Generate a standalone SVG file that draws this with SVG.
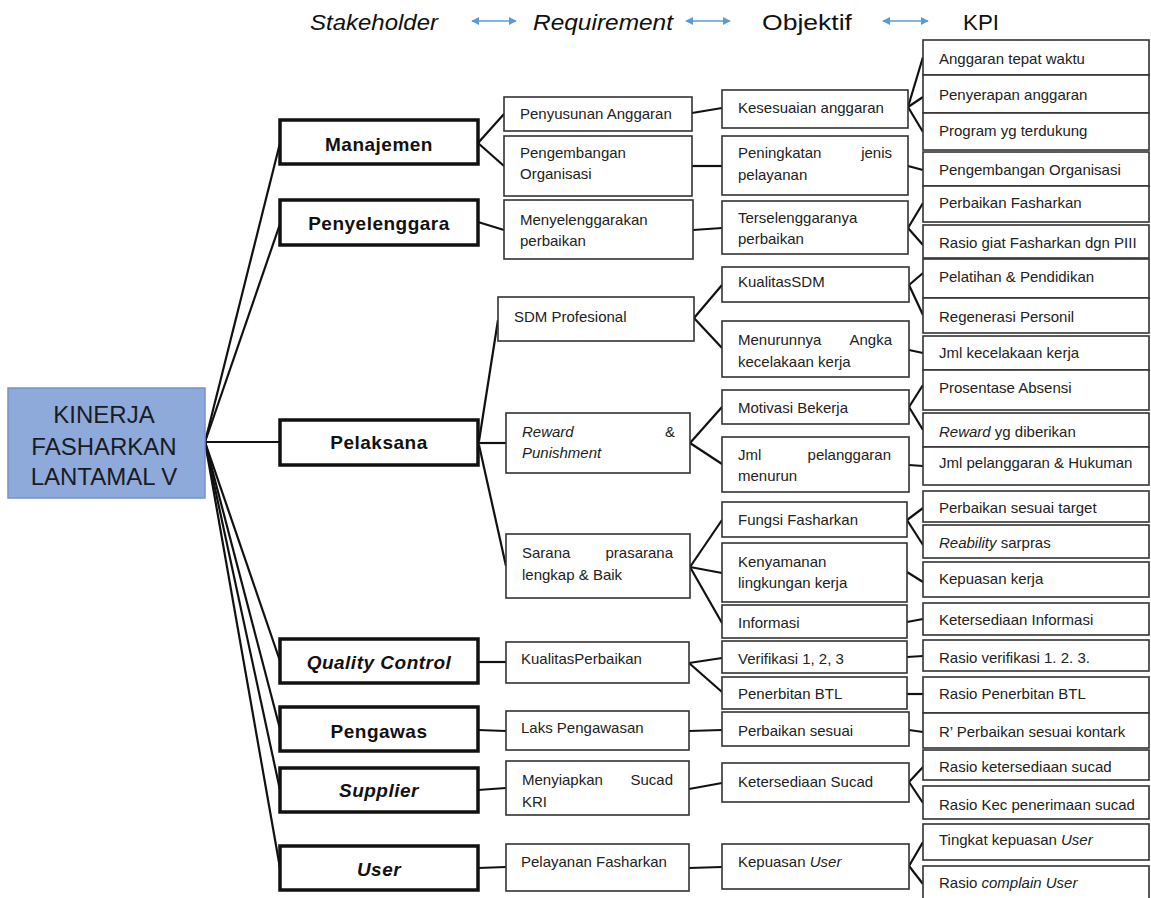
<svg xmlns="http://www.w3.org/2000/svg" width="1151" height="898" viewBox="0 0 1151 898">
<style>
.bg{fill:#ffffff}
.hdr{font-family:"Liberation Sans",Arial,sans-serif;font-size:22px;fill:#111}
.it{font-style:italic}
.root{fill:#8eaadb;stroke:#7292cc;stroke-width:1.5}
.roott{font-family:"Liberation Sans",Arial,sans-serif;font-size:24px;fill:#1b1b24;text-anchor:middle}
.sh{fill:#fff;stroke:#111;stroke-width:3.5}
.sht{font-family:"Liberation Sans",Arial,sans-serif;font-size:19px;font-weight:bold;fill:#111;text-anchor:middle;letter-spacing:0.5px}
.bx{fill:#fff;stroke:#333;stroke-width:1.6}
.t{font-family:"Liberation Sans",Arial,sans-serif;font-size:15px;fill:#222}
.e{text-anchor:end}
.con line,.con polyline{stroke:#111;stroke-width:2.2;fill:none}
.arr{stroke:#5b9bd5;stroke-width:1.6;fill:none}
</style>
<defs>
<marker id="ah" viewBox="0 0 10 10" refX="9" refY="5" markerWidth="5" markerHeight="5" orient="auto-start-reverse">
<path d="M0,0 L10,5 L0,10 z" fill="#5b9bd5"/>
</marker>
</defs>
<rect class="bg" x="0" y="0" width="1151" height="898"/>

<g id="header">
<text class="hdr it" x="310" y="30" textLength="128" lengthAdjust="spacingAndGlyphs">Stakeholder</text>
<line class="arr" x1="472" y1="21" x2="516" y2="21" marker-start="url(#ah)" marker-end="url(#ah)"/>
<text class="hdr it" x="533" y="30" textLength="140" lengthAdjust="spacingAndGlyphs">Requirement</text>
<line class="arr" x1="686" y1="21" x2="730" y2="21" marker-start="url(#ah)" marker-end="url(#ah)"/>
<text class="hdr" x="762" y="30" textLength="90" lengthAdjust="spacingAndGlyphs">Objektif</text>
<line class="arr" x1="883" y1="21" x2="928" y2="21" marker-start="url(#ah)" marker-end="url(#ah)"/>
<text class="hdr" x="963" y="30" textLength="36" lengthAdjust="spacingAndGlyphs">KPI</text>
</g>

<g id="connectors" class="con">
<!-- root to stakeholders -->
<line x1="205" y1="442" x2="280" y2="143"/>
<line x1="205" y1="442" x2="280" y2="224"/>
<line x1="205" y1="442" x2="280" y2="442"/>
<line x1="205" y1="442" x2="280" y2="661"/>
<line x1="205" y1="442" x2="280" y2="729"/>
<line x1="205" y1="442" x2="280" y2="790"/>
<line x1="205" y1="442" x2="280" y2="868"/>
<!-- stakeholders to requirements -->
<line x1="478" y1="143" x2="504" y2="114"/>
<line x1="478" y1="143" x2="504" y2="166"/>
<line x1="478" y1="222" x2="504" y2="230"/>
<line x1="479" y1="441" x2="498" y2="320"/>
<line x1="479" y1="443" x2="506" y2="443"/>
<line x1="479" y1="445" x2="506" y2="566"/>
<line x1="478" y1="662" x2="506" y2="662"/>
<line x1="478" y1="730" x2="506" y2="731"/>
<line x1="478" y1="790" x2="506" y2="788"/>
<line x1="478" y1="868" x2="506" y2="867"/>
<!-- requirements to objectives -->
<line x1="692" y1="113" x2="722" y2="108"/>
<line x1="692" y1="166" x2="722" y2="166"/>
<line x1="693" y1="230" x2="722" y2="228"/>
<line x1="694" y1="318" x2="722" y2="285"/>
<line x1="694" y1="318" x2="722" y2="348"/>
<line x1="690" y1="443" x2="722" y2="407"/>
<line x1="690" y1="443" x2="722" y2="464"/>
<line x1="690" y1="567" x2="722" y2="520"/>
<line x1="690" y1="567" x2="722" y2="573"/>
<line x1="690" y1="567" x2="722" y2="623"/>
<line x1="689" y1="663" x2="722" y2="658"/>
<line x1="689" y1="663" x2="722" y2="692"/>
<line x1="689" y1="731" x2="722" y2="730"/>
<line x1="689" y1="789" x2="722" y2="783"/>
<line x1="689" y1="868" x2="722" y2="867"/>
<!-- objectives to KPI -->
<line x1="908" y1="107" x2="923" y2="57"/>
<line x1="908" y1="107" x2="923" y2="97"/>
<line x1="908" y1="107" x2="923" y2="132"/>
<line x1="908" y1="166" x2="923" y2="170"/>
<line x1="908" y1="228" x2="923" y2="203"/>
<line x1="908" y1="228" x2="923" y2="245"/>
<line x1="909" y1="285" x2="923" y2="273"/>
<line x1="909" y1="285" x2="923" y2="315"/>
<line x1="909" y1="350" x2="923" y2="353"/>
<line x1="909" y1="407" x2="923" y2="385"/>
<line x1="909" y1="407" x2="923" y2="430"/>
<line x1="909" y1="465" x2="923" y2="466"/>
<line x1="907" y1="520" x2="923" y2="508"/>
<line x1="907" y1="520" x2="923" y2="545"/>
<line x1="907" y1="572" x2="923" y2="582"/>
<line x1="907" y1="622" x2="923" y2="619"/>
<line x1="907" y1="657" x2="923" y2="656"/>
<line x1="907" y1="694" x2="923" y2="694"/>
<line x1="909" y1="730" x2="923" y2="732"/>
<line x1="909" y1="782" x2="923" y2="767"/>
<line x1="909" y1="782" x2="923" y2="803"/>
<line x1="909" y1="866" x2="923" y2="842"/>
<line x1="909" y1="866" x2="923" y2="884"/>
</g>

<g id="root">
<rect class="root" x="8" y="388" width="197" height="110"/>
<text class="roott" x="104" y="423">KINERJA</text>
<text class="roott" x="104" y="455">FASHARKAN</text>
<text class="roott" x="104" y="485">LANTAMAL V</text>
</g>

<g id="sh-manajemen"><rect class="sh" x="280" y="120" width="198" height="44"/><text class="sht" x="379" y="151">Manajemen</text></g>
<g id="sh-penyelenggara"><rect class="sh" x="280" y="200" width="198" height="45"/><text class="sht" x="379" y="230">Penyelenggara</text></g>
<g id="sh-pelaksana"><rect class="sh" x="280" y="420" width="198" height="45"/><text class="sht" x="379" y="449">Pelaksana</text></g>
<g id="sh-qc"><rect class="sh" x="280" y="639" width="198" height="44"/><text class="sht it" x="379" y="669">Quality Control</text></g>
<g id="sh-pengawas"><rect class="sh" x="280" y="707" width="198" height="44"/><text class="sht" x="379" y="738">Pengawas</text></g>
<g id="sh-supplier"><rect class="sh" x="280" y="768" width="198" height="44"/><text class="sht it" x="379" y="797">Supplier</text></g>
<g id="sh-user"><rect class="sh" x="280" y="846" width="198" height="44"/><text class="sht it" x="379" y="876">User</text></g>

<g id="req-penyusunan"><rect class="bx" x="504" y="97" width="188" height="34"/><text class="t" x="520" y="119">Penyusunan Anggaran</text></g>
<g id="req-pengembangan"><rect class="bx" x="504" y="136" width="188" height="60"/><text class="t" x="520" y="158">Pengembangan</text><text class="t" x="520" y="179">Organisasi</text></g>
<g id="req-menyelenggarakan"><rect class="bx" x="504" y="200" width="189" height="59"/><text class="t" x="520" y="225">Menyelenggarakan</text><text class="t" x="520" y="246">perbaikan</text></g>
<g id="req-sdm"><rect class="bx" x="498" y="297" width="196" height="44"/><text class="t" x="514" y="322">SDM Profesional</text></g>
<g id="req-reward"><rect class="bx" x="506" y="413" width="184" height="60"/><text class="t it" x="522" y="437">Reward</text><text class="t e" x="675" y="437">&amp;</text><text class="t it" x="522" y="458">Punishment</text></g>
<g id="req-sarana"><rect class="bx" x="506" y="534" width="184" height="64"/><text class="t" x="522" y="558">Sarana</text><text class="t e" x="673" y="558">prasarana</text><text class="t" x="522" y="580">lengkap &amp; Baik</text></g>
<g id="req-kualitas"><rect class="bx" x="506" y="642" width="183" height="41"/><text class="t" x="521" y="664">KualitasPerbaikan</text></g>
<g id="req-laks"><rect class="bx" x="506" y="711" width="183" height="39"/><text class="t" x="521" y="733">Laks Pengawasan</text></g>
<g id="req-menyiapkan"><rect class="bx" x="506" y="761" width="183" height="54"/><text class="t" x="522" y="785">Menyiapkan</text><text class="t e" x="673" y="785">Sucad</text><text class="t" x="522" y="807">KRI</text></g>
<g id="req-pelayanan"><rect class="bx" x="506" y="844" width="183" height="47"/><text class="t" x="521" y="867">Pelayanan Fasharkan</text></g>

<g id="obj-kesesuaian"><rect class="bx" x="722" y="90" width="186" height="38"/><text class="t" x="738" y="113">Kesesuaian anggaran</text></g>
<g id="obj-peningkatan"><rect class="bx" x="722" y="136" width="186" height="59"/><text class="t" x="738" y="158">Peningkatan</text><text class="t e" x="892" y="158">jenis</text><text class="t" x="738" y="180">pelayanan</text></g>
<g id="obj-terselenggara"><rect class="bx" x="722" y="201" width="186" height="53"/><text class="t" x="738" y="223">Terselenggaranya</text><text class="t" x="738" y="244">perbaikan</text></g>
<g id="obj-kualitassdm"><rect class="bx" x="722" y="267" width="187" height="35"/><text class="t" x="738" y="287">KualitasSDM</text></g>
<g id="obj-menurunnya"><rect class="bx" x="722" y="321" width="187" height="56"/><text class="t" x="738" y="345">Menurunnya</text><text class="t e" x="892" y="345">Angka</text><text class="t" x="738" y="367">kecelakaan kerja</text></g>
<g id="obj-motivasi"><rect class="bx" x="722" y="390" width="187" height="34"/><text class="t" x="738" y="413">Motivasi Bekerja</text></g>
<g id="obj-jmlpel"><rect class="bx" x="722" y="437" width="187" height="55"/><text class="t" x="738" y="460">Jml</text><text class="t e" x="891" y="460">pelanggaran</text><text class="t" x="738" y="481">menurun</text></g>
<g id="obj-fungsi"><rect class="bx" x="722" y="502" width="185" height="35"/><text class="t" x="738" y="525">Fungsi Fasharkan</text></g>
<g id="obj-kenyamanan"><rect class="bx" x="722" y="543" width="185" height="59"/><text class="t" x="738" y="567">Kenyamanan</text><text class="t" x="738" y="588">lingkungan kerja</text></g>
<g id="obj-informasi"><rect class="bx" x="722" y="605" width="185" height="33"/><text class="t" x="738" y="628">Informasi</text></g>
<g id="obj-verifikasi"><rect class="bx" x="722" y="641" width="185" height="32"/><text class="t" x="738" y="664">Verifikasi 1, 2, 3</text></g>
<g id="obj-penerbitan"><rect class="bx" x="722" y="677" width="185" height="32"/><text class="t" x="738" y="699">Penerbitan BTL</text></g>
<g id="obj-perbaikansesuai"><rect class="bx" x="722" y="712" width="187" height="34"/><text class="t" x="738" y="736">Perbaikan sesuai</text></g>
<g id="obj-ketersediaan"><rect class="bx" x="722" y="763" width="187" height="39"/><text class="t" x="738" y="787">Ketersediaan Sucad</text></g>
<g id="obj-kepuasan"><rect class="bx" x="722" y="844" width="187" height="45"/><text class="t" x="738" y="867">Kepuasan <tspan class="it">User</tspan></text></g>

<g id="kpi-1"><rect class="bx" x="923" y="40" width="226" height="35"/><text class="t" x="939" y="64">Anggaran tepat waktu</text></g>
<g id="kpi-2"><rect class="bx" x="923" y="75" width="226" height="38"/><text class="t" x="939" y="100">Penyerapan anggaran</text></g>
<g id="kpi-3"><rect class="bx" x="923" y="113" width="226" height="37"/><text class="t" x="939" y="136">Program yg terdukung</text></g>
<g id="kpi-4"><rect class="bx" x="923" y="152" width="226" height="34"/><text class="t" x="939" y="175">Pengembangan Organisasi</text></g>
<g id="kpi-5"><rect class="bx" x="923" y="186" width="226" height="36"/><text class="t" x="939" y="208">Perbaikan Fasharkan</text></g>
<g id="kpi-6"><rect class="bx" x="923" y="225" width="226" height="33"/><text class="t" x="939" y="248">Rasio giat Fasharkan dgn PIII</text></g>
<g id="kpi-7"><rect class="bx" x="923" y="259" width="226" height="39"/><text class="t" x="939" y="282">Pelatihan &amp; Pendidikan</text></g>
<g id="kpi-8"><rect class="bx" x="923" y="298" width="226" height="35"/><text class="t" x="939" y="322">Regenerasi Personil</text></g>
<g id="kpi-9"><rect class="bx" x="923" y="336" width="226" height="34"/><text class="t" x="939" y="358">Jml kecelakaan kerja</text></g>
<g id="kpi-10"><rect class="bx" x="923" y="370" width="226" height="40"/><text class="t" x="939" y="393">Prosentase Absensi</text></g>
<g id="kpi-11"><rect class="bx" x="923" y="413" width="226" height="34"/><text class="t" x="939" y="437"><tspan class="it">Reward</tspan> yg diberikan</text></g>
<g id="kpi-12"><rect class="bx" x="923" y="447" width="226" height="38"/><text class="t" x="939" y="468">Jml pelanggaran &amp; Hukuman</text></g>
<g id="kpi-13"><rect class="bx" x="923" y="491" width="226" height="31"/><text class="t" x="939" y="513">Perbaikan sesuai target</text></g>
<g id="kpi-14"><rect class="bx" x="923" y="525" width="226" height="33"/><text class="t" x="939" y="548"><tspan class="it">Reability</tspan> sarpras</text></g>
<g id="kpi-15"><rect class="bx" x="923" y="562" width="226" height="35"/><text class="t" x="939" y="584">Kepuasan kerja</text></g>
<g id="kpi-16"><rect class="bx" x="923" y="603" width="226" height="32"/><text class="t" x="939" y="625">Ketersediaan Informasi</text></g>
<g id="kpi-17"><rect class="bx" x="923" y="640" width="226" height="31"/><text class="t" x="939" y="663">Rasio verifikasi 1. 2. 3.</text></g>
<g id="kpi-18"><rect class="bx" x="923" y="677" width="226" height="36"/><text class="t" x="939" y="699">Rasio Penerbitan BTL</text></g>
<g id="kpi-19"><rect class="bx" x="923" y="713" width="226" height="35"/><text class="t" x="939" y="737">R’ Perbaikan sesuai kontark</text></g>
<g id="kpi-20"><rect class="bx" x="923" y="750" width="226" height="30"/><text class="t" x="939" y="772">Rasio ketersediaan sucad</text></g>
<g id="kpi-21"><rect class="bx" x="923" y="786" width="226" height="33"/><text class="t" x="939" y="810">Rasio Kec penerimaan sucad</text></g>
<g id="kpi-22"><rect class="bx" x="923" y="824" width="226" height="36"/><text class="t" x="939" y="845">Tingkat kepuasan <tspan class="it">User</tspan></text></g>
<g id="kpi-23"><rect class="bx" x="923" y="866" width="226" height="40"/><text class="t" x="939" y="888">Rasio <tspan class="it">complain User</tspan></text></g>
</svg>
